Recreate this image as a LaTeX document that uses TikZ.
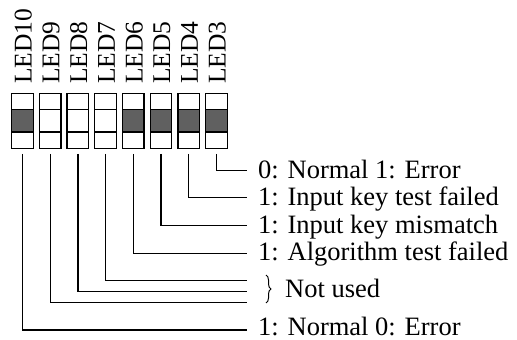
\documentclass[tikz,border=0pt]{standalone}
\usepackage{fontspec}
\setmainfont{Liberation Serif}
\usetikzlibrary{decorations.pathreplacing}
\definecolor{ledgray}{RGB}{96,96,96}
\tikzset{
  ledbox/.style={draw, line width=1.3pt, rectangle, minimum width=21.6pt, minimum height=55pt, inner sep=0pt},
  ledlabel/.style={rotate=90, anchor=base west, inner sep=0pt, font=\fontsize{25.5}{30}\selectfont},
  desc/.style={anchor=base west, inner sep=0pt, font=\fontsize{26.5}{30}\selectfont},
  conn/.style={line width=1.3pt},
}
\begin{document}
\begin{tikzpicture}[x=1pt,y=1pt]
\useasboundingbox (0,0) rectangle (517,340);
% LED columns
\foreach \n/\i/\f in {10/0/1,9/1/0,8/2/0,7/3/0,6/4/1,5/5/1,4/6/1,3/7/1}{
  \pgfmathsetmacro{\cx}{22.5+27.7*\i}
  \ifnum\f=1 \fill[ledgray] (\cx-10.8,208) rectangle (\cx+10.8,230.3); \fi
  \node[ledbox] (b\n) at (\cx,219.2) {};
  \draw[line width=1.3pt] (\cx-10.8,208) -- (\cx+10.8,208) (\cx-10.8,230.3) -- (\cx+10.8,230.3);
  \node[ledlabel] (l\n) at (\cx+9.2,256) {LED\n};
  \coordinate (s\n) at (\cx,186);
}
% line ends
\coordinate (e3) at (247,169.3);
\coordinate (e4) at (247,142.3);
\coordinate (e5) at (247,114.3);
\coordinate (e6) at (247,86.7);
\coordinate (e7) at (247,59.3);
\coordinate (e8) at (247,48.5);
\coordinate (e9) at (247,37.5);
\coordinate (e10) at (247,10);
\foreach \n in {3,4,5,6,7,8,9,10}{
  \draw[conn] (s\n) |- (e\n);
}
% descriptions
\node[desc] (t3) at (258,161.8) {0: Normal 1: Error};
\node[desc] (t4) at (258,134.8) {1: Input key test failed};
\node[desc] (t5) at (258,106.8) {1: Input key mismatch};
\node[desc] (t6) at (258,79.2) {1: Algorithm test failed};
\draw[line width=1pt, decorate, decoration={brace, amplitude=5pt}] (266,65) -- (266,37);
\node[desc] (tn) at (285,42) {Not used};
\node[desc] (t10) at (258,4.5) {1: Normal 0: Error};
\end{tikzpicture}
\end{document}
